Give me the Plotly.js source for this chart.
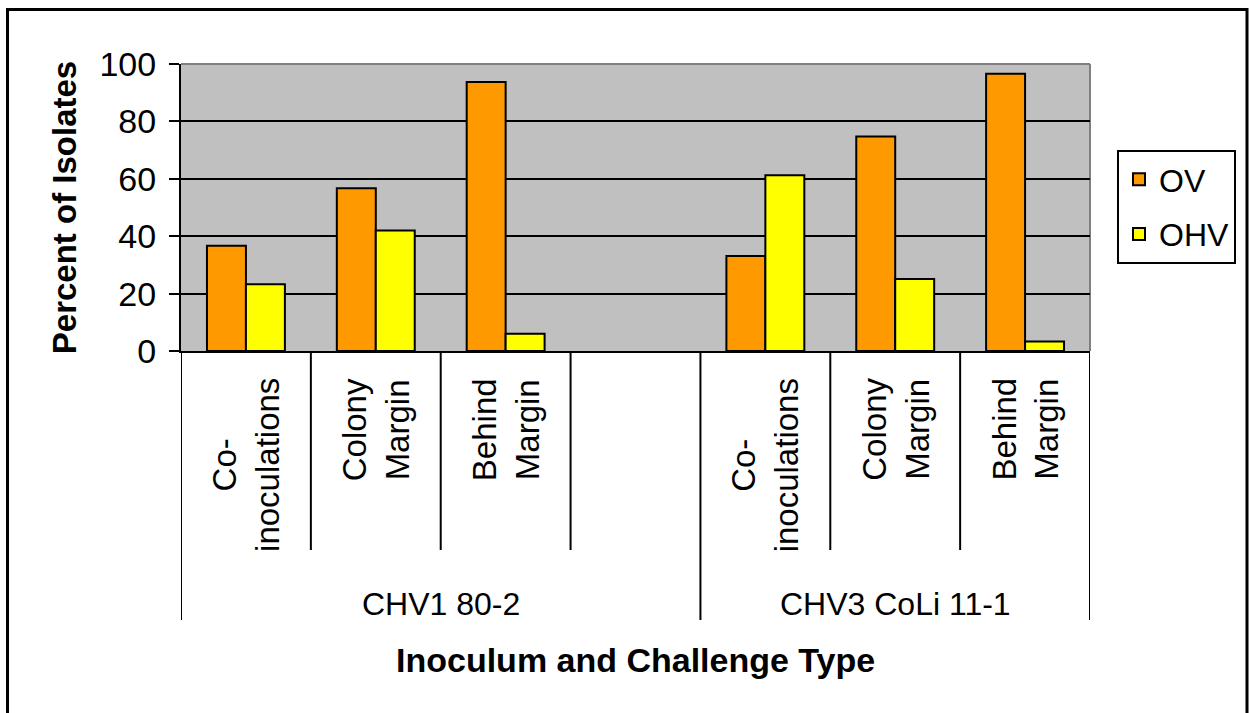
<!DOCTYPE html>
<html>
<head>
<meta charset="utf-8">
<script src="https://cdn.plot.ly/plotly-3.0.1.min.js"></script>
<style>html,body{margin:0;padding:0;background:#fff;}#chart{width:1251px;height:713px;}</style>
</head>
<body>
<div id="chart"></div>
<script>
const categories = ['Co-<br>inoculations', 'Colony<br>Margin', 'Behind<br>Margin', '', 'Co-<br>inoculations', 'Colony<br>Margin', 'Behind<br>Margin'];
const groupLabels = ['CHV1 80-2', 'CHV3 CoLi 11-1'];
const groupSizes = [4, 3];
const ovValues = [36.7, 56.7, 93.7, null, 33.1, 74.7, 96.6];
const ohvValues = [23.3, 42.0, 6.0, null, 61.2, 25.1, 3.3];
const yTicks = [0, 20, 40, 60, 80, 100];
const seriesNames = ['OV', 'OHV'];

const FONT = 'Liberation Sans, Arial, sans-serif';
const xIdx = categories.map((_, i) => i);

const traces = [
  {type: 'bar', name: seriesNames[0], x: xIdx, y: ovValues, legendgroup: 'a',
   marker: {color: '#FF9900', line: {color: '#000', width: 2}}, hoverinfo: 'y'},
  {type: 'bar', name: seriesNames[1], x: xIdx, y: ohvValues, legendgroup: 'b',
   marker: {color: '#FFFF00', line: {color: '#000', width: 2}}, hoverinfo: 'y'}
];

const W = 1251, H = 713;
const M = {l: 181, r: 161, t: 64, b: 362};
const pw = W - M.l - M.r, ph = H - M.t - M.b;
const px2x = p => (p - M.l) / pw;
const py2y = p => (H - M.b - p) / ph;

const shapes = [];
// plot area top/right grey border
shapes.push({type: 'line', xref: 'paper', yref: 'paper', x0: 0, x1: 1, y0: 1, y1: 1, line: {color: '#808080', width: 2}, layer: 'between'});
shapes.push({type: 'line', xref: 'paper', yref: 'paper', x0: 1, x1: 1, y0: 0, y1: 1, line: {color: '#808080', width: 2}, layer: 'between'});
// category dividers
const groupBounds = [0];
groupSizes.forEach(s => groupBounds.push(groupBounds[groupBounds.length - 1] + s));
for (let i = 0; i <= categories.length; i++) {
  const isGroup = groupBounds.includes(i);
  shapes.push({type: 'line', xref: 'x', yref: 'paper', x0: i - 0.5, x1: i - 0.5,
    y0: 0, y1: py2y(isGroup ? 620 : 550), line: {color: '#000', width: 2}});
}
// outer frame
shapes.push({type: 'rect', xref: 'paper', yref: 'paper', x0: px2x(7.5), x1: px2x(1247), y0: py2y(730), y1: py2y(9.5),
  line: {color: '#000', width: 3}, fillcolor: 'rgba(0,0,0,0)'});

const annotations = [];
categories.forEach((c, i) => {
  if (!c) return;
  annotations.push({text: c, x: i, xref: 'x', y: py2y(376), yref: 'paper', yanchor: 'top', xanchor: 'center',
    textangle: -90, align: 'center', showarrow: false, font: {family: FONT, size: 33, color: '#000'}});
});
groupLabels.forEach((g, k) => {
  const start = groupBounds[k], end = groupBounds[k + 1] - 1;
  annotations.push({text: g, x: (start + end) / 2, xref: 'x', y: py2y(604), yref: 'paper', yanchor: 'middle',
    showarrow: false, font: {family: FONT, size: 32, color: '#000'}});
});
annotations.push({text: 'Inoculum and Challenge Type', x: 0.5, xref: 'paper', y: py2y(660), yref: 'paper', yanchor: 'middle',
  showarrow: false, font: {family: FONT, size: 34, color: '#000', weight: 'bold'}});

const layout = {
  width: W, height: H,
  margin: M,
  paper_bgcolor: '#fff', plot_bgcolor: '#C0C0C0',
  font: {family: FONT, color: '#000'},
  barmode: 'group', bargap: 0.4, bargroupgap: 0,
  showlegend: true,
  legend: {x: px2x(1117), y: py2y(150), xanchor: 'left', yanchor: 'top', bgcolor: '#fff',
    bordercolor: '#000', borderwidth: 2, font: {family: FONT, size: 32, color: '#000'},
    traceorder: 'grouped', tracegroupgap: 10},
  xaxis: {range: [-0.5, categories.length - 0.5], showticklabels: false, ticks: '', showgrid: false, zeroline: false,
    showline: true, linecolor: '#000', linewidth: 2, fixedrange: true},
  yaxis: {range: [0, 100], tickvals: yTicks, ticktext: yTicks.map(String), ticks: 'outside', ticklen: 10, tickwidth: 2, tickcolor: '#000',
    showline: true, linecolor: '#000', linewidth: 2, showgrid: true, gridcolor: '#000', gridwidth: 2, zeroline: false,
    tickfont: {family: FONT, size: 34, color: '#000'}, ticklabelstandoff: 6,
    title: {text: 'Percent of Isolates', font: {family: FONT, size: 33, color: '#000', weight: 'bold'}, standoff: 13},
    fixedrange: true},
  shapes: shapes,
  annotations: annotations
};

Plotly.newPlot('chart', traces, layout, {displayModeBar: false, staticPlot: true});
</script>
</body>
</html>
